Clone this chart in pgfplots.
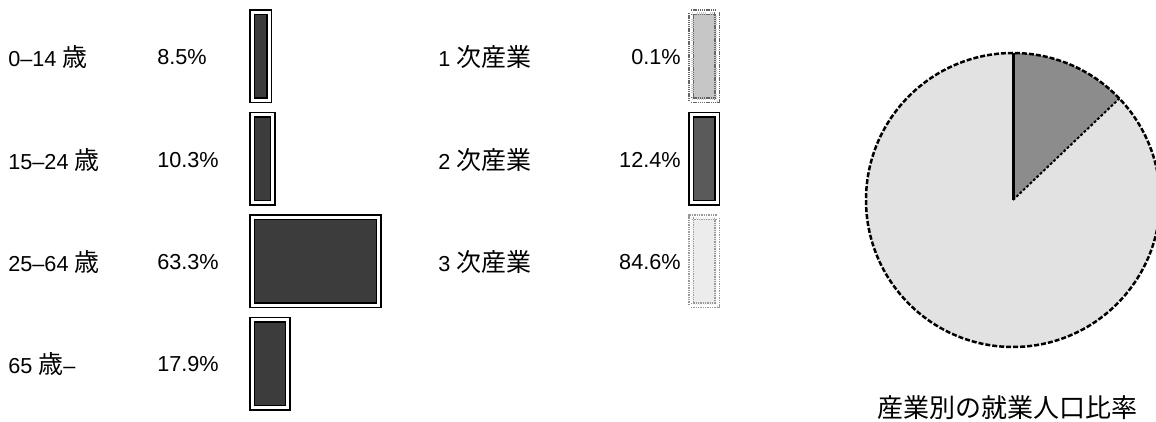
\documentclass[border=0pt]{standalone}
\usepackage{pgfplots}
\pgfplotsset{compat=1.18}
\usepackage{pgfplotstable}
\usepackage{fontspec}
\setmainfont{Liberation Sans}
\newfontfamily\jp{Noto Sans CJK JP}
\newcommand\J[1]{{\jp\fontsize{15pt}{17pt}\selectfont #1}}
\definecolor{agefill}{HTML}{3C3C3C}
\definecolor{indA}{HTML}{C6C6C6}
\definecolor{indB}{HTML}{5A5A5A}
\definecolor{indC}{HTML}{ECECEC}
\definecolor{pieB}{HTML}{8C8C8C}
\definecolor{pieC}{HTML}{E2E2E2}

\pgfplotstableread{
row value
0 8.5
1 10.3
2 63.3
3 17.9
}\agetbl
\pgfplotstableread{
row value
0 0.1
1 12.4
2 84.6
}\indtbl

\begin{document}
\begin{tikzpicture}
\fontsize{13pt}{15pt}\selectfont
\useasboundingbox (0,0) rectangle (693.6pt,-253.2pt);

% age bars
\begin{axis}[at={(151.2pt,-3.03pt)}, anchor=north west, scale only axis,
  width=84pt, height=246pt, xmin=0, xmax=70, ymin=-0.5, ymax=3.5,
  y dir=reverse, hide axis, xbar, bar width=52.8pt, bar shift=0pt, clip=false]
\addplot[draw=black, line width=0.9pt, double=white, double distance=1.8pt, fill=agefill]
  table[x=value, y=row]{\agetbl};
\end{axis}

% industry swatches
\begin{axis}[at={(414.6pt,-3.03pt)}, anchor=north west, scale only axis,
  width=15.6pt, height=184.5pt, xmin=0, xmax=1, ymin=-0.5, ymax=2.5,
  y dir=reverse, hide axis, xbar, bar width=52.8pt, bar shift=0pt, clip=false]
\addplot[draw=black!60, line width=0.9pt, dash pattern=on 0.8pt off 0.5pt, double=white, double distance=1.8pt, fill=indA] coordinates {(1,0)};
\addplot[draw=black, line width=0.9pt, double=white, double distance=1.8pt, fill=indB] coordinates {(1,1)};
\addplot[draw=black!40, line width=0.8pt, dash pattern=on 0.8pt off 0.6pt, double=white, double distance=1.8pt, fill=indC] coordinates {(1,2)};
\end{axis}

% pie
\pgfplotstablegetelem{0}{value}\of\indtbl \let\vA\pgfplotsretval
\pgfplotstablegetelem{1}{value}\of\indtbl \let\vB\pgfplotsretval
\pgfplotstablegetelem{2}{value}\of\indtbl \let\vC\pgfplotsretval
\pgfmathsetmacro\tot{\vA+\vB+\vC}
\pgfmathsetmacro\aA{90-\vA/\tot*360}
\pgfmathsetmacro\aB{\aA-\vB/\tot*360}
\begin{axis}[at={(607.8pt,-120pt)}, anchor=center, scale only axis,
  width=176.4pt, height=176.4pt, xmin=-1, xmax=1, ymin=-1, ymax=1,
  hide axis, clip=false]
\addplot[draw=none] coordinates {(0,0)};
\fill[pieC] (axis cs:0,0) -- ++(\aB:88.2pt) arc[start angle=\aB, end angle=-270, radius=88.2pt] -- cycle;
\fill[pieB] (axis cs:0,0) -- ++(\aA:88.2pt) arc[start angle=\aA, end angle=\aB, radius=88.2pt] -- cycle;
\fill[indA] (axis cs:0,0) -- ++(90:88.2pt) arc[start angle=90, end angle=\aA, radius=88.2pt] -- cycle;
\draw[black, line width=1.2pt, dash pattern=on 1.6pt off 1.2pt] (axis cs:0,0) -- ++(\aB:88.2pt);
\draw[black, line width=1.5pt, dash pattern=on 3pt off 1.2pt] (axis cs:0,0) circle[radius=88.2pt];
\draw[black, line width=1.8pt] (axis cs:0,0) -- ++(90:88.2pt);
\end{axis}

% labels
\begin{scope}[every node/.style={inner sep=0pt, anchor=west}]
\node at (4.8pt,-34.2pt) {0–14 \J{歳}};
\node at (4.8pt,-96pt) {15–24 \J{歳}};
\node at (4.8pt,-157.2pt) {25–64 \J{歳}};
\node at (4.8pt,-218.4pt) {65 \J{歳}–};
\node at (94.2pt,-34.2pt) {8.5\%};
\node at (94.2pt,-96pt) {10.3\%};
\node at (94.2pt,-157.2pt) {63.3\%};
\node at (94.2pt,-218.4pt) {17.9\%};
\node at (262.8pt,-34.2pt) {1 \J{次産業}};
\node at (262.8pt,-96pt) {2 \J{次産業}};
\node at (262.8pt,-157.2pt) {3 \J{次産業}};
\node[anchor=east] at (408.6pt,-34.2pt) {0.1\%};
\node[anchor=east] at (408.6pt,-96pt) {12.4\%};
\node[anchor=east] at (408.6pt,-157.2pt) {84.6\%};
\node[anchor=center] at (604.2pt,-244.8pt) {\jp\fontsize{15.6pt}{18pt}\selectfont 産業別の就業人口比率};
\end{scope}
\end{tikzpicture}
\end{document}
